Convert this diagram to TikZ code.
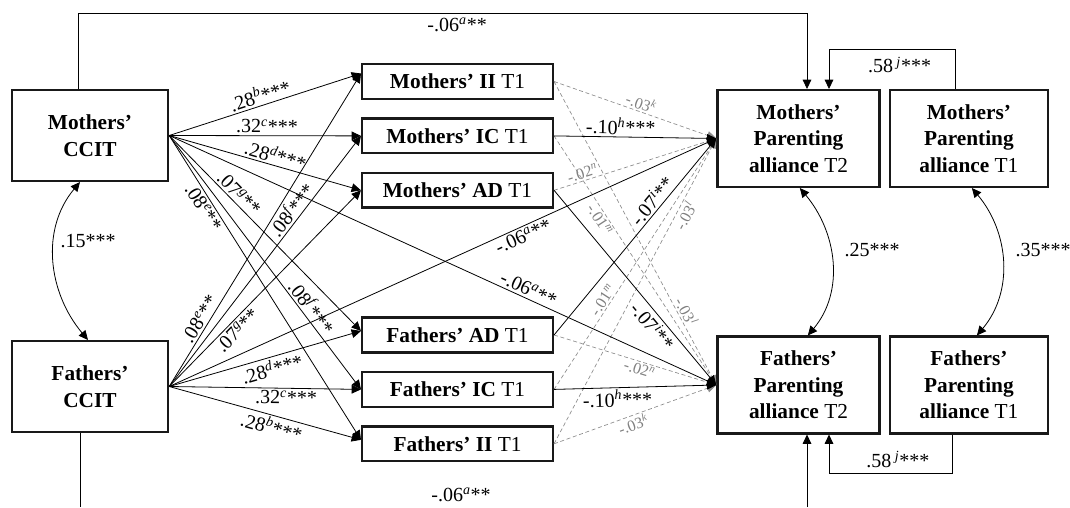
\documentclass[tikz,border=0pt]{standalone}
\usepackage{fontspec}
\setmainfont{Liberation Serif}
\usepackage{tikz}
\usetikzlibrary{arrows.meta,positioning}
\newcommand{\pcoef}[3]{#1\textsuperscript{\textit{#2}}#3}
\tikzset{
    %Define standard arrow tip
    >={Triangle[length=7pt,width=6.5pt]},
    %Define style for boxes
    bigbox/.style={
           rectangle,
           draw=black!90, line width=1.8pt,
           minimum width=117pt,
           minimum height=68pt,
           align=center,
           font=\fontsize{16}{20}\selectfont\bfseries},
    midbox/.style={
           rectangle,
           draw=black!90, line width=1.8pt,
           minimum width=143pt,
           minimum height=26pt,
           font=\fontsize{16}{20}\selectfont},
    pabox/.style={
           rectangle,
           draw=black!90, line width=1.8pt,
           minimum width=121.5pt,
           minimum height=72.5pt,
           align=center,
           font=\fontsize{16}{20}\selectfont},
    % Define arrow style
    pil/.style={
           ->,
           line width=0.6pt},
    nsig/.style={
           ->,
           draw=black!45, dash pattern=on 3pt off 2pt,
           line width=0.5pt},
    coef/.style={
           font=\fontsize{15}{15}\selectfont,
           inner sep=1.5pt},
    ncoef/.style={
           font=\fontsize{12}{12}\selectfont,
           text=black!50,
           inner sep=1.2pt}
}
\begin{document}
\begin{tikzpicture}[x=0.75pt,y=-0.75pt,node distance=13pt]
\useasboundingbox (0,0) rectangle (1070,507);
 %nodes
\node[bigbox](mccit) at (90,135.5){Mothers'\\CCIT};
\node[bigbox](fccit) at (90,386.5){Fathers'\\CCIT};

\node[midbox](mii) at (457.5,81.5){\textbf{Mothers' II} T1};
\node[midbox, below=of mii](mic){\textbf{Mothers' IC} T1};
\node[midbox, below=of mic](mad){\textbf{Mothers' AD} T1};
\node[midbox](fad) at (457.5,335){\textbf{Fathers' AD} T1};
\node[midbox, below=of fad](fic){\textbf{Fathers' IC} T1};
\node[midbox, below=of fic](fii){\textbf{Fathers' II} T1};

\node[pabox](mpa2) at (798.5,138.5){\textbf{Mothers'}\\\textbf{Parenting}\\\textbf{alliance} T2};
\node[pabox, minimum width=118.5pt, right=6pt of mpa2](mpa1){\textbf{Mothers'}\\\textbf{Parenting}\\\textbf{alliance} T1};
\node[pabox](fpa2) at (798.5,385){\textbf{Fathers'}\\\textbf{Parenting}\\\textbf{alliance} T2};
\node[pabox, minimum width=118.5pt, right=6pt of fpa2](fpa1){\textbf{Fathers'}\\\textbf{Parenting}\\\textbf{alliance} T1};

 %corners
\coordinate (tl) at (78,13);
\coordinate (tr) at (807,13);
\coordinate (bl) at (80,507);
\coordinate (br) at (807,507);
\coordinate (ml) at (829,49);
\coordinate (mr) at (955,49);
\coordinate (fl) at (829,473);
\coordinate (fr) at (952,473);

 %long paths
\draw[pil] (mccit.north -| tl) -- (tl) -- node[coef, below=2pt, pos=.52](ctop){\pcoef{-.06}{a}{**}} (tr) -- (mpa2.north -| tr);
\draw[pil, -] (fccit.south -| bl) -- (bl);
\draw[pil] (br) -- (fpa2.south -| br);
\node[coef](cbot) at (461,495){\pcoef{-.06}{a}{**}};

\draw[pil] (mpa1.north -| mr) -- (mr) -- node[coef, below=4pt, pos=.44](cmst){\pcoef{.58\,}{j}{***}} (ml) -- (mpa2.north -| ml);
\draw[pil] (fpa1.south -| fr) -- (fr) -- node[coef, above=2pt, pos=.44](cfst){\pcoef{.58\,}{j}{***}} (fl) -- (fpa2.south -| fl);

 %covariances
\draw[pil, <->] ([xshift=-7.5pt]mccit.south) to[out=-130,in=130] ([xshift=-1.5pt]fccit.north);
\draw[pil, <->] ([xshift=1pt]mpa2.south) to[out=-50,in=50] ([xshift=7pt]fpa2.north);
\draw[pil, <->] ([xshift=2.25pt]mpa1.south) to[out=-50,in=50] ([xshift=6pt]fpa1.north);
\node[coef](c15) at (88,241){.15***};
\node[coef](c25) at (872,250){.25***};
\node[coef](c35) at (1043,250){.35***};

 %non significant paths
\path
    (mii.east) edge[nsig] node[ncoef, sloped, above, pos=.52](nk1){\pcoef{-.03}{k}{}} (mpa2.west)
    (mii.east) edge[nsig] node[ncoef, sloped, above, pos=.77](nl1){\pcoef{-.03}{l}{}} (fpa2.west)
    (mic.east) edge[nsig] node[ncoef, sloped, below, pos=.32](nm1){\pcoef{-.01}{m}{}} (fpa2.west)
    (mad.east) edge[nsig] node[ncoef, sloped, above, pos=.19](nn1){\pcoef{-.02}{n}{}} (mpa2.west)
    (fad.east) edge[nsig] node[ncoef, sloped, below, pos=.54](nn2){\pcoef{-.02}{n}{}} (fpa2.west)
    (fic.east) edge[nsig] node[ncoef, sloped, above, pos=.34](nm2){\pcoef{-.01}{m}{}} (mpa2.west)
    (fii.east) edge[nsig] node[ncoef, sloped, below, pos=.76](nl2){\pcoef{-.03}{l}{}} (mpa2.west)
    (fii.east) edge[nsig] node[ncoef, sloped, below, pos=.47](nk2){\pcoef{-.03}{k}{}} (fpa2.west);

 %mothers' CCIT paths
\path
    (mccit.east) edge[pil] node[coef, sloped, above, pos=.49](mcb){\pcoef{.28}{b}{***}} ([yshift=6pt]mii.west)
    (mccit.east) edge[pil] node[coef, sloped, above, pos=.51](mcc){\pcoef{.32}{c}{***}} (mic.west)
    (mccit.east) edge[pil] node[coef, sloped, above, pos=.54](mcd){\pcoef{.28}{d}{***}} (mad.west)
    (mccit.east) edge[pil] node[coef, sloped, above, pos=.33](mcg){\pcoef{.07}{g}{**}} ([yshift=3pt]fad.west)
    (mccit.east) edge[pil] node[coef, sloped, above, pos=.70](mcf){\pcoef{.08}{f}{***}} (fic.west)
    (mccit.east) edge[pil] node[coef, sloped, below, pos=.22](mce){\pcoef{.08}{e}{**}} ([yshift=3pt]fii.west)
    (mccit.east) edge[pil] node[coef, sloped, above, pos=.65](mca){\pcoef{-.06}{a}{**}} (fpa2.west);

 %fathers' CCIT paths
\path
    (fccit.east) edge[pil] node[coef, sloped, below, pos=.55](fcb){\pcoef{.28}{b}{***}} ([yshift=3pt]fii.west)
    (fccit.east) edge[pil] node[coef, sloped, below, pos=.61](fcc){\pcoef{.32}{c}{***}} (fic.west)
    (fccit.east) edge[pil] node[coef, sloped, below, pos=.52](fcd){\pcoef{.28}{d}{***}} ([yshift=3pt]fad.west)
    (fccit.east) edge[pil] node[coef, sloped, below, pos=.32](fcg){\pcoef{.07}{g}{**}} (mad.west)
    (fccit.east) edge[pil] node[coef, sloped, above, pos=.68](fcf){\pcoef{.08}{f}{***}} (mic.west)
    (fccit.east) edge[pil] node[coef, sloped, above, pos=.20](fce){\pcoef{.08}{e}{**}} ([yshift=6pt]mii.west)
    (fccit.east) edge[pil] node[coef, sloped, below, pos=.64](fca){\pcoef{-.06}{a}{**}} (mpa2.west);

 %T1 to T2 paths
\path
    (mic.east) edge[pil] node[coef, sloped, above, pos=.41](ch1){\pcoef{-.10}{h}{***}} (mpa2.west)
    (fad.east) edge[pil] node[coef, sloped, above, pos=.65](ci1){\pcoef{-.07}{i}{**}} (mpa2.west)
    (mad.east) edge[pil] node[coef, sloped, below, pos=.66](ci2){\pcoef{-.07}{i}{**}} (fpa2.west)
    (fic.east) edge[pil] node[coef, sloped, below, pos=.39](ch2){\pcoef{-.10}{h}{***}} (fpa2.west);
\end{tikzpicture}
\end{document}
